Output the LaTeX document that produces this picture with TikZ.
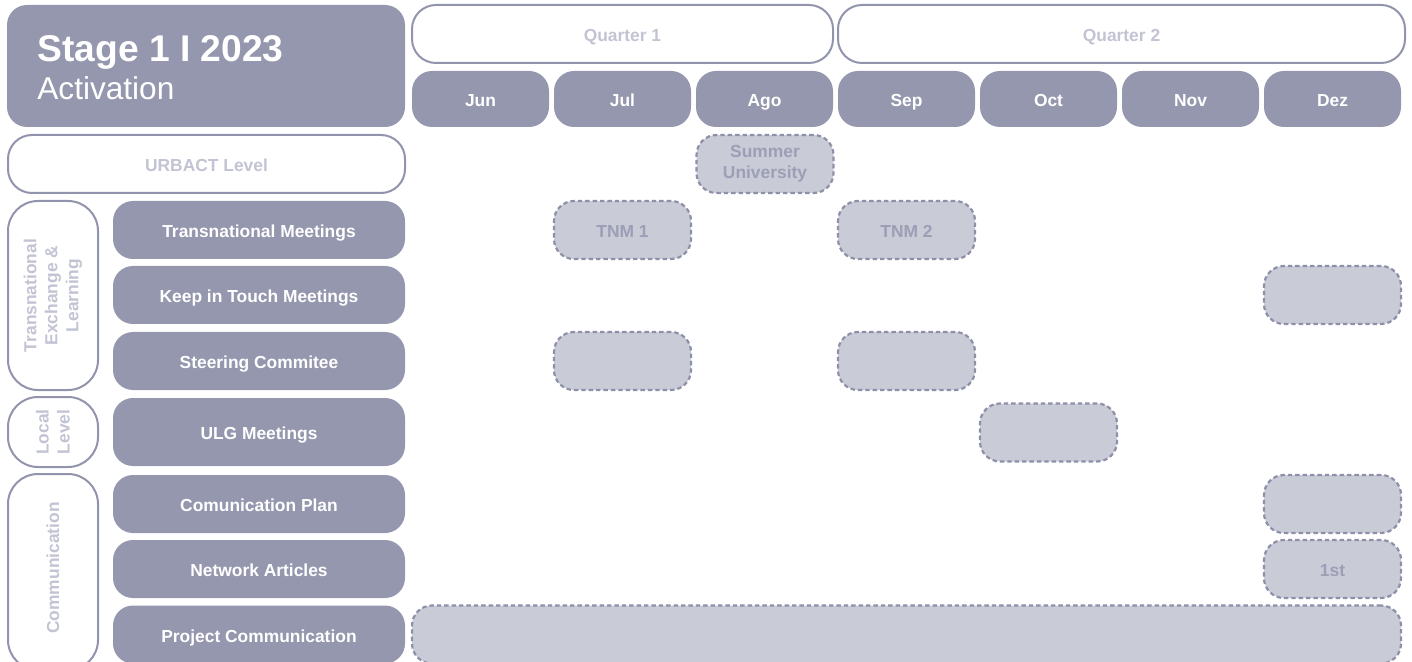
\documentclass[tikz,border=0pt]{standalone}
\usepackage{fontspec}
\setmainfont{Liberation Sans}
\usepackage{tikz}
\usetikzlibrary{positioning}
\definecolor{urbslate}{HTML}{9497AE}
\definecolor{urbline}{HTML}{9194AC}
\definecolor{urbpale}{HTML}{C2C4D3}
\definecolor{urbfill}{HTML}{C9CBD7}
\definecolor{urbdash}{HTML}{8D90A8}
\definecolor{urbtext}{HTML}{9C9FB5}
\tikzset{
  lbl/.style={font=\bfseries\fontsize{8.7}{10.5}\selectfont},
  oneline/.style={text height=8.2pt,text depth=0.6pt},
  darkbox/.style={lbl,fill=urbslate,text=white,rounded corners=10pt,inner sep=0pt},
  openbox/.style={lbl,oneline,draw=urbline,line width=1pt,fill=white,text=urbpale,rounded corners=12pt,inner sep=0pt},
  plannedbox/.style={lbl,draw=urbdash,line width=1.1pt,dash pattern=on 2.2pt off 1.5pt,fill=urbfill,text=urbtext,
    rounded corners=10pt,inner sep=0pt,minimum width=68.5pt,minimum height=29pt,align=center},
  monthbox/.style={darkbox,oneline,minimum width=68.5pt,minimum height=28pt},
  rowbox/.style={darkbox,oneline,minimum width=146pt,minimum height=29pt},
  groupbox/.style={draw=urbline,line width=1pt,fill=white,rounded corners=15pt}
}
\begin{document}
\begin{tikzpicture}[x=0.5pt,y=-0.5pt]
  \useasboundingbox (0,0) rectangle (1412,662);
  % header
  \node[darkbox,minimum width=199pt,minimum height=61pt] (stage) at (206,66) {};
  \node[anchor=base west,text=white,inner sep=0pt,font=\bfseries\fontsize{18.6}{20}\selectfont] (stagetitle) at (37,62) {Stage 1 I 2023};
  \node[anchor=base west,text=white,inner sep=0pt,font=\fontsize{15.8}{18}\selectfont] (stagename) at (37,100) {Activation};
  \node[openbox,minimum width=210.5pt,minimum height=29pt] (q1) at (622.5,34) {Quarter 1};
  \node[openbox,minimum width=283.5pt,minimum height=29pt] (q2) at (1121.5,34) {Quarter 2};
  \foreach \m [count=\i from 0] in {Jun,Jul,Ago,Sep,Oct,Nov,Dez}{
    \node[monthbox] (m\m) at (480.5+142*\i,99) {\m};
  }
  % left column
  \node[openbox,minimum width=198.5pt,minimum height=29pt] (urbact) at (206.5,164) {URBACT Level};
  \draw[groupbox] (8,201) rectangle (98,390);
  \node[lbl,text=urbpale,rotate=90,align=center] (gtel) at (53,295.5) {Transnational\\Exchange \&\\Learning};
  \draw[groupbox] (8,397) rectangle (98,467);
  \node[lbl,text=urbpale,rotate=90,align=center] (gloc) at (53,432) {Local\\Level};
  \draw[groupbox] (8,474) rectangle (98,670);
  \node[lbl,text=urbpale,rotate=90,align=center] (gcom) at (53,568) {Communication};
  \node[rowbox] (tnm) at (259,230) {Transnational Meetings};
  \node[rowbox] (kit) at (259,295) {Keep in Touch Meetings};
  \node[rowbox] (steer) at (259,361) {Steering Commitee};
  \node[rowbox,minimum height=34pt] (ulg) at (259,432) {ULG Meetings};
  \node[rowbox] (complan) at (259,504) {Comunication Plan};
  \node[rowbox] (articles) at (259,569) {Network Articles};
  \node[rowbox] (projcom) at (259,634.5) {Project Communication};
  % planned activities
  \node[plannedbox] (summer) at (765,164) {Summer\\University};
  \node[plannedbox,oneline] (tnm1) at (622.5,230) {TNM 1};
  \node[plannedbox,oneline] (tnm2) at (906.5,230) {TNM 2};
  \node[plannedbox] (kitdez) at (1332.5,295) {};
  \node[plannedbox] (steerjul) at (622.5,361) {};
  \node[plannedbox] (steersep) at (906.5,361) {};
  \node[plannedbox] (ulgoct) at (1048.5,432.5) {};
  \node[plannedbox] (complandez) at (1332.5,504) {};
  \node[plannedbox,oneline] (articlesdez) at (1332.5,569) {1st};
  \node[plannedbox,minimum width=494.5pt] (projcomall) at (906.5,634.5) {};
\end{tikzpicture}
\end{document}
